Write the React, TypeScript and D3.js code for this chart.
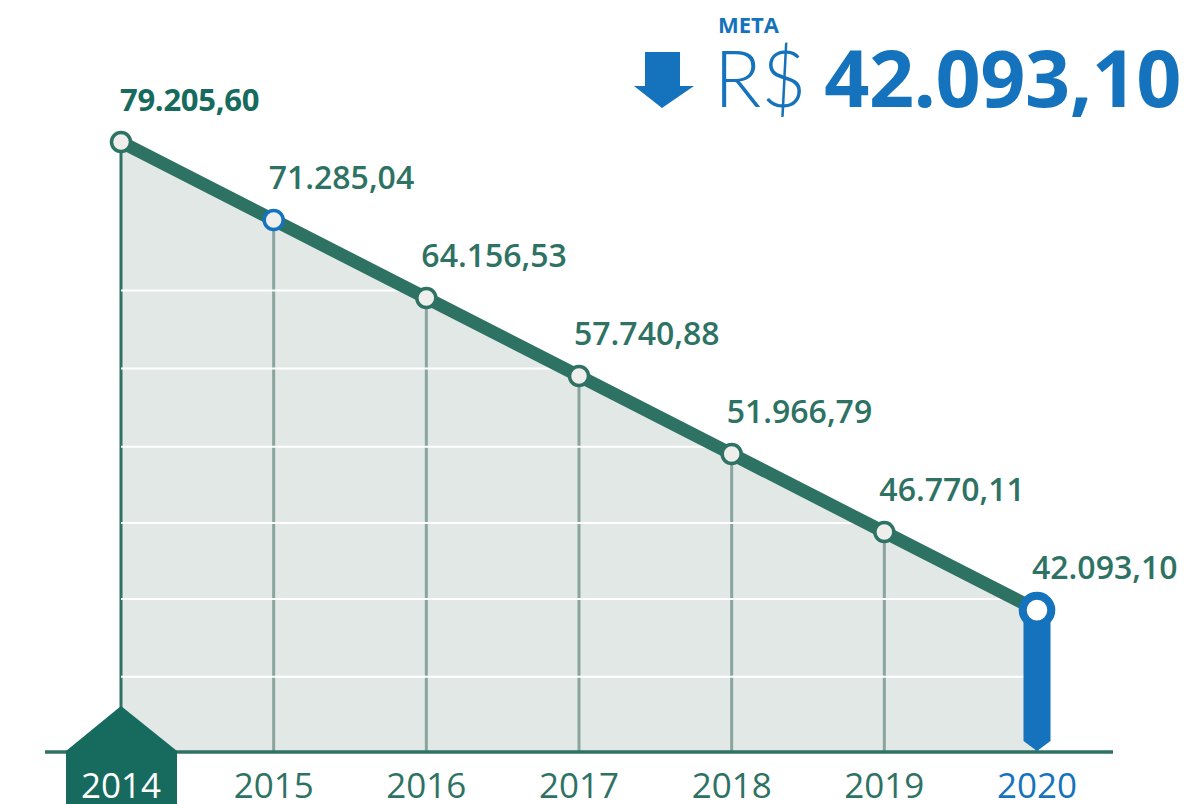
import React from "react";
import * as d3 from "d3";

const years = ["2014", "2015", "2016", "2017", "2018", "2019", "2020"];
const values = [79205.6, 71285.04, 64156.53, 57740.88, 51966.79, 46770.11, 42093.1];
const valueLabels = ["79.205,60", "71.285,04", "64.156,53", "57.740,88", "51.966,79", "46.770,11", "42.093,10"];
const gridValues = [38468, 42723, 47353, 52483, 58328, 64820];
const metaLabel = "META";
const currency = "R$";
const metaValue = "42.093,10";

const W = 1190, H = 804;
const TEAL = "#2e7264";
const DARK = "#166b5e";
const BLUE = "#1473bc";
const FILL = "#e1e8e5";
const VLINE = "#8aa59f";
const FONT = "'Open Sans', 'Noto Sans', sans-serif";

export default function App() {
  const x = d3.scalePoint<string>().domain(years).range([121, 1037]);
  const y = d3.scaleLog().domain([34800, 79205.6]).range([751, 142]);
  const base = 751;
  const pts = years.map((yr, i) => ({ yr, v: values[i], x: x(yr) as number, y: y(values[i]), label: valueLabels[i] }));

  const areaGen = d3.area<any>().x(d => d.x).y0(base).y1(d => d.y);
  const lineGen = d3.line<any>().x(d => d.x).y(d => d.y);
  const last = pts[pts.length - 1];
  const first = pts[0];

  const barW = 27;
  const barPath = `M${last.x - barW / 2},${last.y} L${last.x + barW / 2},${last.y} L${last.x + barW / 2},${base - 10} L${last.x},${base} L${last.x - barW / 2},${base - 10} Z`;
  const housePath = `M${first.x},${base - 45} L${first.x + 56},${base} L${first.x + 56},${H} L${first.x - 55},${H} L${first.x - 55},${base} Z`;

  return (
    <div style={{ position: "absolute", left: 0, top: 0 }}>
      <svg width={W} height={H} style={{ display: "block" }} fontFamily={FONT}>
        <defs>
          <clipPath id="areaClip">
            <path d={areaGen(pts) as string} />
          </clipPath>
        </defs>
        <path d={areaGen(pts) as string} fill={FILL} />
        {pts.map((p, i) => (
          <line key={"v" + i} x1={p.x} x2={p.x} y1={p.y} y2={base}
            stroke={i === 0 ? TEAL : VLINE} strokeWidth={3} />
        ))}
        <g clipPath="url(#areaClip)">
          {gridValues.map((g, i) => (
            <line key={"g" + i} x1={first.x - 3} x2={last.x} y1={y(g)} y2={y(g)} stroke="#ffffff" strokeWidth={2} />
          ))}
        </g>
        <line x1={45} x2={1113} y1={base + 1} y2={base + 1} stroke={TEAL} strokeWidth={3.5} />
        <path d={lineGen(pts) as string} fill="none" stroke={TEAL} strokeWidth={13} strokeLinejoin="round" />
        <path d={barPath} fill={BLUE} />
        {pts.slice(0, -1).map((p, i) => (
          <circle key={"c" + i} cx={p.x} cy={p.y} r={9.5} fill="#eeeeec"
            stroke={i === 1 ? BLUE : TEAL} strokeWidth={3.5} />
        ))}
        <circle cx={last.x} cy={last.y} r={14.3} fill="#ffffff" stroke={BLUE} strokeWidth={8} />

        {pts.map((p, i) => (
          <text key={"l" + i} x={p.x - (i === 0 ? 1 : 5)} y={p.y - 31}
            fontSize={i === 0 ? 31 : 32} fontWeight={i === 0 ? 700 : 600}
            fill={i === 0 ? DARK : TEAL} letterSpacing={i === 0 ? -0.3 : 0}>{p.label}</text>
        ))}

        <path d={housePath} fill={DARK} />
        {pts.map((p, i) => (
          <text key={"yr" + i} x={p.x} y={798} textAnchor="middle" fontSize={35}
            fill={i === 0 ? "#ffffff" : i === pts.length - 1 ? BLUE : TEAL}>{p.yr}</text>
        ))}

        <text x={718} y={33} fontSize={22} fontWeight={700} fill={BLUE}>{metaLabel}</text>
        <path d="M645,52 L680,52 L680,86 L694,86 L662,108 L634,86 L645,86 Z" fill={BLUE} />
        <text x={714} y={107} fontSize={78} fontWeight={300} fill={BLUE} fontFamily="Lato, 'Open Sans', sans-serif">{currency}</text>
        <text x={1181} y={107} textAnchor="end" fontSize={79} fontWeight={700} fill={BLUE} letterSpacing={-0.5}>{metaValue}</text>
      </svg>
    </div>
  );
}
